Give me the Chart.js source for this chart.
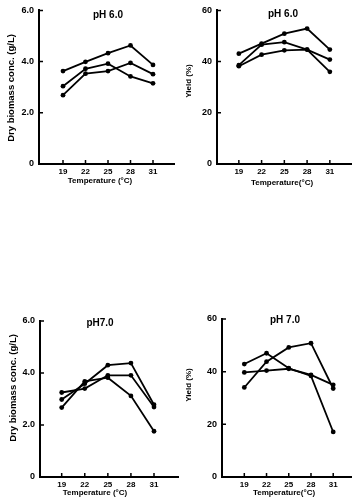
<!DOCTYPE html>
<html>
<head>
<meta charset="utf-8">
<script src="https://cdn.jsdelivr.net/npm/chart.js@4.4.1/dist/chart.umd.min.js"></script>
<style>
  html,body{margin:0;padding:0;background:#fff;width:355px;height:499px;overflow:hidden;}
  canvas{position:absolute;left:0;top:0;pointer-events:none;}
</style>
</head>
<body>
<canvas id="c1" width="355" height="499"></canvas>
<canvas id="c2" width="355" height="499"></canvas>
<canvas id="c3" width="355" height="499"></canvas>
<canvas id="c4" width="355" height="499"></canvas>
<script>
// ---- data ----
const temps = [19, 22, 25, 28, 31];
const tempTicks = [19, 22, 25, 28, 31];
const biomassTicks = [0, 2, 4, 6];
const yieldTicks = [0, 20, 40, 60];

// pH 6.0 dry biomass (g/L)
const bio6A = [3.63, 3.99, 4.33, 4.63, 3.87];
const bio6B = [2.69, 3.53, 3.63, 3.95, 3.51];
const bio6C = [3.04, 3.72, 3.92, 3.42, 3.15];
// pH 6.0 yield (%)
const yld6A = [43.1, 47.0, 50.9, 52.9, 44.7];
const yld6B = [38.6, 46.6, 47.6, 44.7, 40.8];
const yld6C = [38.2, 42.7, 44.4, 44.7, 36.0];
// pH 7.0 dry biomass (g/L)
const bio7A = [2.98, 3.59, 4.30, 4.38, 2.78];
const bio7B = [3.25, 3.40, 3.91, 3.91, 2.69];
const bio7C = [2.67, 3.68, 3.82, 3.12, 1.76];
// pH 7.0 yield (%)
const yld7A = [34.0, 43.8, 49.2, 50.8, 33.6];
const yld7B = [42.9, 47.0, 41.3, 38.4, 17.1];
const yld7C = [39.7, 40.4, 41.1, 38.8, 35.0];

const FONT = '"Liberation Sans", Arial, sans-serif';

const labelPlugin = {
  id: 'panelText',
  afterDraw(chart, args, o) {
    const ctx = chart.ctx;
    ctx.save();
    ctx.fillStyle = '#000';
    ctx.strokeStyle = '#000';
    // inward tick marks
    ctx.lineWidth = 1.5;
    const xs = chart.scales.x, ys = chart.scales.y;
    const ca = chart.chartArea;
    ctx.beginPath();
    ys.ticks.forEach(t => {
      const py = ys.getPixelForValue(t.value);
      ctx.moveTo(ca.left, py); ctx.lineTo(ca.left + 4, py);
    });
    xs.ticks.forEach(t => {
      const px = xs.getPixelForValue(t.value);
      ctx.moveTo(px, ca.bottom); ctx.lineTo(px, ca.bottom - 4);
    });
    ctx.stroke();
    // texts
    ctx.textAlign = 'center';
    ctx.textBaseline = 'middle';
    ctx.font = 'bold 10px ' + FONT;
    ctx.fillText(o.title, o.tx, o.ty);
    ctx.font = 'bold 8px ' + FONT;
    ctx.fillText(o.xTitle, o.xx, o.xy);
    ctx.font = 'bold ' + o.ySize + 'px ' + FONT;
    ctx.translate(o.yx, o.yy);
    ctx.rotate(-Math.PI / 2);
    ctx.fillText(o.yTitle, 0, 0);
    ctx.restore();
  }
};

function ds(data) {
  return {
    data: temps.map((t, i) => ({x: t, y: data[i]})),
    borderColor: '#000', backgroundColor: '#000',
    borderWidth: 1.8, pointRadius: 2.4, pointBorderWidth: 0,
    pointStyle: 'circle', tension: 0, fill: false
  };
}

function makeChart(id, p) {
  const yW = 30, xH = 20;
  new Chart(document.getElementById(id), {
    type: 'line',
    data: { datasets: p.series.map(ds) },
    plugins: [labelPlugin],
    options: {
      responsive: false, animation: false, devicePixelRatio: 1,
      layout: { padding: { left: p.l - yW, right: 355 - p.r, top: p.t, bottom: 499 - p.b - xH } },
      plugins: {
        legend: { display: false }, tooltip: { enabled: false },
        panelText: p.text
      },
      scales: {
        x: {
          type: 'linear', min: p.xmin, max: p.xmax,
          afterFit: s => { s.height = xH; },
          afterBuildTicks: s => { s.ticks = tempTicks.map(v => ({value: v})); },
          ticks: { color: '#000', padding: 3, font: { family: FONT, size: 8, weight: 'bold' }, callback: v => String(v) },
          grid: { display: false, drawTicks: false },
          border: { display: true, color: '#000', width: 2 }
        },
        y: {
          type: 'linear', min: p.ymin, max: p.ymax,
          afterFit: s => { s.width = yW; },
          afterBuildTicks: s => { s.ticks = p.yTicks.map(v => ({value: v})); },
          ticks: { color: '#000', padding: 5, font: { family: FONT, size: 9, weight: 'bold' }, callback: p.yFmt },
          grid: { display: false, drawTicks: false },
          border: { display: true, color: '#000', width: 2 }
        }
      }
    }
  });
}

const bioFmt = v => v === 0 ? '0' : Number(v).toFixed(1);
const yldFmt = v => String(v);

makeChart('c1', {
  l: 39, r: 174, t: 6, b: 164, xmin: 15.8, xmax: 33.8, ymin: 0, ymax: 6,
  yTicks: biomassTicks, yFmt: bioFmt, series: [bio6A, bio6B, bio6C],
  text: { title: 'pH 6.0', tx: 108, ty: 15, xTitle: 'Temperature (°C)', xx: 100, xy: 181,
          yTitle: 'Dry biomass conc. (g/L)', yx: 11, yy: 88, ySize: 9.5 }
});
makeChart('c2', {
  l: 217, r: 352, t: 10, b: 164, xmin: 16.12, xmax: 33.79, ymin: 0, ymax: 60,
  yTicks: yieldTicks, yFmt: yldFmt, series: [yld6A, yld6B, yld6C],
  text: { title: 'pH 6.0', tx: 283, ty: 14, xTitle: 'Temperature(°C)', xx: 282, xy: 183,
          yTitle: 'Yield (%)', yx: 189, yy: 81, ySize: 8 }
});
makeChart('c3', {
  l: 40, r: 178, t: 321, b: 477, xmin: 16.18, xmax: 34.12, ymin: 0, ymax: 6,
  yTicks: biomassTicks, yFmt: bioFmt, series: [bio7A, bio7B, bio7C],
  text: { title: 'pH7.0', tx: 100, ty: 323, xTitle: 'Temperature (°C)', xx: 95, xy: 493,
          yTitle: 'Dry biomass conc. (g/L)', yx: 13, yy: 388, ySize: 9.5 }
});
makeChart('c4', {
  l: 222, r: 355, t: 319, b: 477, xmin: 15.99, xmax: 33.4, ymin: 0, ymax: 60,
  yTicks: yieldTicks, yFmt: yldFmt, series: [yld7A, yld7B, yld7C],
  text: { title: 'pH 7.0', tx: 285, ty: 320, xTitle: 'Temperature(°C)', xx: 284, xy: 493,
          yTitle: 'Yield (%)', yx: 189, yy: 385, ySize: 8 }
});
</script>
</body>
</html>
